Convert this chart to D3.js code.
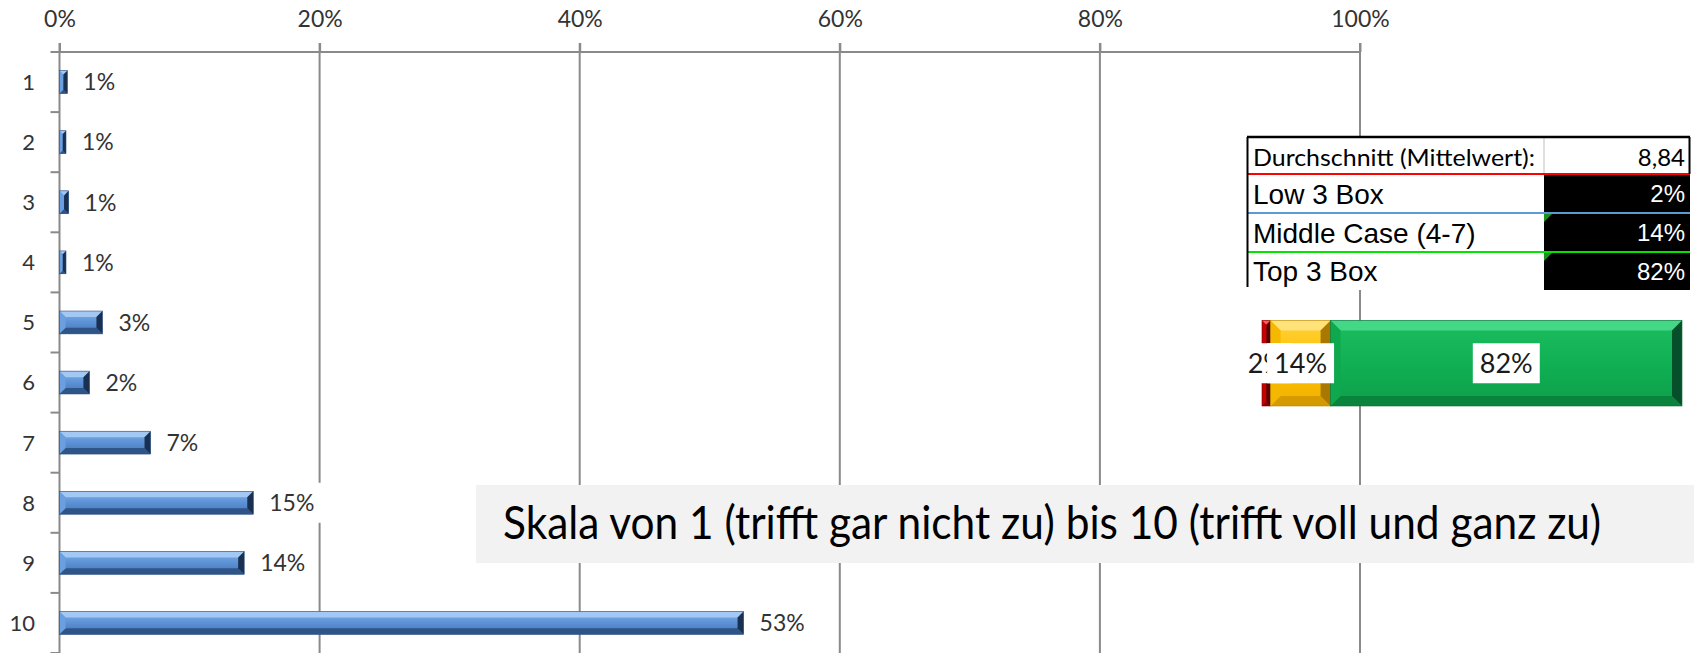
<!DOCTYPE html>
<html>
<head>
<meta charset="utf-8">
<script src="https://cdn.jsdelivr.net/npm/d3@7"></script>
<style>
  html, body { margin: 0; padding: 0; background: #ffffff; }
  svg { display: block; }
</style>
</head>
<body>
<svg id="chart" width="1694" height="653"></svg>
<script>
// Antwortverteilung je Skalenpunkt (Anteil in %)
const categories = ["1", "2", "3", "4", "5", "6", "7", "8", "9", "10"];
const shares = [0.6, 0.5, 0.7, 0.5, 3.3, 2.3, 7.0, 14.9, 14.2, 52.6];
const axisTicks = [0, 20, 40, 60, 80, 100];

// Kennzahlen
const meanLabel = "Durchschnitt (Mittelwert):";
const meanValue = "8,84";
const boxNames = ["Low 3 Box", "Middle Case (4-7)", "Top 3 Box"];
const boxShares = [2, 14, 82];

const scaleNote = "Skala von 1 (trifft gar nicht zu) bis 10 (trifft voll und ganz zu)";

const svg = d3.select("#chart");
const W = 1694, H = 653;
const calibriLike = "Lato, 'Open Sans', sans-serif";
const arialLike = "'Liberation Sans', Arial, sans-serif";
const gridColor = "#8a8a8a";
const labelColor = "#333333";

// ---------- Farbpaletten für die Bevel-Balken ----------
const palettes = {
  blue:   { g0: "#7db0ea", g1: "#5c91d5", g2: "#4676b6", top: "#a2c8f3", bottom: "#2f5588", left: "#6b9fe0", right: "#1a3050", edge: "#2c4f7e" },
  red:    { g0: "#ff2a2a", g1: "#d40000", g2: "#a80000", top: "#ff5a5a", bottom: "#8a0000", left: "#c80000", right: "#5a0000", edge: "#7a0000" },
  yellow: { g0: "#ffd23a", g1: "#ffc000", g2: "#f0b000", top: "#ffe27a", bottom: "#d49a00", left: "#f5b800", right: "#a87800", edge: "#b88600" },
  green:  { g0: "#1cbd5f", g1: "#10b054", g2: "#0d9f4a", top: "#44d886", bottom: "#0a833c", left: "#10a84f", right: "#05502a", edge: "#07703a" }
};

const defs = svg.append("defs");
Object.entries(palettes).forEach(([name, p]) => {
  const lg = defs.append("linearGradient").attr("id", "grad-" + name)
    .attr("x1", 0).attr("y1", 0).attr("x2", 0).attr("y2", 1);
  lg.append("stop").attr("offset", "0%").attr("stop-color", p.g0);
  lg.append("stop").attr("offset", "50%").attr("stop-color", p.g1);
  lg.append("stop").attr("offset", "100%").attr("stop-color", p.g2);
});

function bevelBar(sel, x0, x1, y0, y1, name, bevel) {
  const p = palettes[name];
  const w = x1 - x0, h = y1 - y0;
  const k = Math.max(0, Math.min(bevel, w / 2, h / 2));
  const g = sel.append("g");
  g.append("rect").attr("x", x0).attr("y", y0).attr("width", w).attr("height", h)
    .attr("fill", "url(#grad-" + name + ")");
  const faces = [
    [[[x0, y0], [x1, y0], [x1 - k, y0 + k], [x0 + k, y0 + k]], p.top],
    [[[x0, y1], [x1, y1], [x1 - k, y1 - k], [x0 + k, y1 - k]], p.bottom],
    [[[x0, y0], [x0 + k, y0 + k], [x0 + k, y1 - k], [x0, y1]], p.left],
    [[[x1, y0], [x1 - k, y0 + k], [x1 - k, y1 - k], [x1, y1]], p.right]
  ];
  faces.forEach(([pts, fill]) => {
    g.append("polygon").attr("points", pts.map(d => d.join(",")).join(" ")).attr("fill", fill);
  });
  g.append("rect").attr("x", x0).attr("y", y0).attr("width", w).attr("height", h)
    .attr("fill", "none").attr("stroke", p.edge).attr("stroke-width", 0.6);
  return g;
}

// ---------- Hauptdiagramm ----------
const x = d3.scaleLinear().domain([0, 100]).range([59.5, 1360]);
const y = d3.scaleBand().domain(categories).range([52, 653])
  .paddingInner(0.62).paddingOuter(0.31);
const axisY = y.range()[0];
const tickLen = 9;

// Gitternetzlinien
svg.append("g").selectAll("line").data(axisTicks).join("line")
  .attr("x1", d => x(d)).attr("x2", d => x(d))
  .attr("y1", axisY - tickLen).attr("y2", H)
  .attr("stroke", gridColor).attr("stroke-width", 2);

// obere Achse
const xAxis = svg.append("g").attr("transform", `translate(0,${axisY})`)
  .call(d3.axisTop(x).tickValues(axisTicks).tickFormat(d => d + "%")
    .tickSize(tickLen).tickPadding(16));
xAxis.select(".domain").remove();
xAxis.selectAll(".tick line").attr("stroke", gridColor).attr("stroke-width", 2);
xAxis.selectAll(".tick text").attr("font-family", calibriLike).attr("font-size", 23)
  .attr("fill", labelColor);
svg.append("line")
  .attr("x1", x(0) - tickLen).attr("x2", x(100))
  .attr("y1", axisY).attr("y2", axisY)
  .attr("stroke", gridColor).attr("stroke-width", 2);

// Kategorie-Teilstriche an den Bandgrenzen
const step = y.step();
svg.append("g").selectAll("line").data(d3.range(1, categories.length + 1)).join("line")
  .attr("x1", x(0) - tickLen).attr("x2", x(0))
  .attr("y1", k => axisY + k * step).attr("y2", k => axisY + k * step)
  .attr("stroke", gridColor).attr("stroke-width", 2);

// Kategorie-Beschriftung
svg.append("g").selectAll("text").data(categories).join("text")
  .attr("x", 35).attr("y", d => y(d) + y.bandwidth() / 2).attr("dy", "0.36em")
  .attr("text-anchor", "end")
  .attr("font-family", calibriLike).attr("font-size", 22).attr("fill", labelColor)
  .text(d => d);

// Balken
const barLayer = svg.append("g");
categories.forEach((c, i) => {
  bevelBar(barLayer, x(0), x(shares[i]), y(c), y(c) + y.bandwidth(), "blue", 6);
});

// Datenbeschriftungen mit weißem Hintergrund
const labelLayer = svg.append("g");
categories.forEach((c, i) => {
  const g = labelLayer.append("g");
  const cy = y(c) + y.bandwidth() / 2;
  const t = g.append("text")
    .attr("x", x(shares[i]) + 16).attr("y", cy).attr("dy", "0.36em")
    .attr("font-family", calibriLike).attr("font-size", 23).attr("fill", labelColor)
    .text(Math.round(shares[i]) + "%");
  const bb = t.node().getBBox();
  g.insert("rect", "text")
    .attr("x", bb.x - 5).attr("y", cy - 20)
    .attr("width", bb.width + 12).attr("height", 40)
    .attr("fill", "#ffffff");
});

// ---------- Kennzahlentabelle ----------
const tbl = { x0: 1247, x1: 1690, col: 1544, rows: [137, 174, 213, 252, 290] };
const tg = svg.append("g");
tg.append("rect").attr("x", tbl.x0).attr("y", tbl.rows[0])
  .attr("width", tbl.x1 - tbl.x0).attr("height", tbl.rows[4] - tbl.rows[0])
  .attr("fill", "#ffffff");
boxNames.forEach((n, i) => {
  tg.append("rect").attr("x", tbl.col).attr("y", tbl.rows[i + 1])
    .attr("width", tbl.x1 - tbl.col).attr("height", tbl.rows[i + 2] - tbl.rows[i + 1])
    .attr("fill", "#000000");
});
tg.append("line").attr("x1", tbl.col).attr("x2", tbl.col)
  .attr("y1", tbl.rows[0]).attr("y2", tbl.rows[1])
  .attr("stroke", "#d4d4d4").attr("stroke-width", 1.5);

const sepColors = ["#ff0000", "#5b9bd5", "#00e400"];
sepColors.forEach((col, i) => {
  tg.append("line").attr("x1", tbl.x0).attr("x2", tbl.x1)
    .attr("y1", tbl.rows[i + 1]).attr("y2", tbl.rows[i + 1])
    .attr("stroke", col).attr("stroke-width", 2);
});
// Fehlerindikatoren (grüne Dreiecke)
[2, 3].forEach(r => {
  const yy = tbl.rows[r] + 1;
  tg.append("polygon")
    .attr("points", `${tbl.col},${yy} ${tbl.col + 8},${yy} ${tbl.col},${yy + 8}`)
    .attr("fill", "#1f8f1f");
});
// Rahmen
tg.append("line").attr("x1", tbl.x0).attr("x2", tbl.x1)
  .attr("y1", tbl.rows[0]).attr("y2", tbl.rows[0])
  .attr("stroke", "#000").attr("stroke-width", 2.5);
tg.append("line").attr("x1", tbl.x0 + 0.5).attr("x2", tbl.x0 + 0.5)
  .attr("y1", tbl.rows[0]).attr("y2", tbl.rows[4] - 3)
  .attr("stroke", "#000").attr("stroke-width", 2);
tg.append("line").attr("x1", tbl.x1 - 0.5).attr("x2", tbl.x1 - 0.5)
  .attr("y1", tbl.rows[0]).attr("y2", tbl.rows[1])
  .attr("stroke", "#000").attr("stroke-width", 2);

const rowMid = i => (tbl.rows[i] + tbl.rows[i + 1]) / 2;
tg.append("text").attr("x", tbl.x0 + 6).attr("y", rowMid(0)).attr("dy", "0.42em")
  .attr("font-family", calibriLike).attr("font-size", 24).attr("fill", "#000")
  .attr("textLength", 282).attr("lengthAdjust", "spacingAndGlyphs")
  .text(meanLabel);
tg.append("text").attr("x", tbl.x1 - 5).attr("y", rowMid(0)).attr("dy", "0.42em")
  .attr("text-anchor", "end")
  .attr("font-family", calibriLike).attr("font-size", 24).attr("fill", "#000")
  .text(meanValue);
boxNames.forEach((n, i) => {
  tg.append("text").attr("x", tbl.x0 + 6).attr("y", rowMid(i + 1)).attr("dy", "0.36em")
    .attr("font-family", arialLike).attr("font-size", 28).attr("fill", "#000")
    .text(n);
  tg.append("text").attr("x", tbl.x1 - 5).attr("y", rowMid(i + 1)).attr("dy", "0.36em")
    .attr("text-anchor", "end")
    .attr("font-family", arialLike).attr("font-size", 24).attr("fill", "#ffffff")
    .text(boxShares[i] + "%");
});

// ---------- gestapelter Boxen-Balken ----------
const boxColors = ["red", "yellow", "green"];
const xs = d3.scaleLinear().domain([0, d3.sum(boxShares)]).range([1262, 1682]);
const sy0 = 320.5, sy1 = 406;
const starts = d3.cumsum([0].concat(boxShares.slice(0, -1)));
const sg = svg.append("g");
boxShares.forEach((v, i) => {
  bevelBar(sg, xs(starts[i]), xs(starts[i] + v), sy0, sy1, boxColors[i], 10);
});
const sl = svg.append("g");
boxShares.forEach((v, i) => {
  const g = sl.append("g");
  const cx = xs(starts[i] + v / 2), cy = (sy0 + sy1) / 2;
  const t = g.append("text").attr("x", cx).attr("y", cy).attr("dy", "0.36em")
    .attr("text-anchor", "middle")
    .attr("font-family", calibriLike).attr("font-size", 27).attr("fill", "#1a1a1a")
    .text(v + "%");
  const bb = t.node().getBBox();
  g.insert("rect", "text")
    .attr("x", bb.x - 7).attr("y", cy - 20)
    .attr("width", bb.width + 14).attr("height", 40)
    .attr("fill", "#ffffff");
});

// ---------- Skalenhinweis ----------
const note = svg.append("g");
note.append("rect").attr("x", 476).attr("y", 485).attr("width", W - 476).attr("height", 78)
  .attr("fill", "#f2f2f2");
note.append("text").attr("x", 503).attr("y", 539)
  .attr("font-family", calibriLike).attr("font-size", 46).attr("fill", "#000")
  .attr("textLength", 1098).attr("lengthAdjust", "spacingAndGlyphs")
  .text(scaleNote);
</script>
</body>
</html>
